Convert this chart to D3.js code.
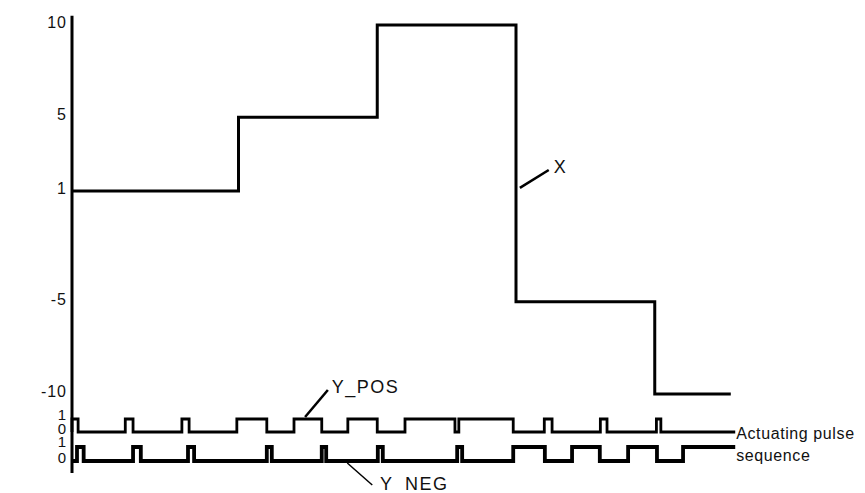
<!doctype html>
<html>
<head>
<meta charset="utf-8">
<title>Actuating pulse sequence</title>
<style>
  * { margin: 0; padding: 0; }
  body { background: #fff; }
  svg { display: block; }
  text { font-family: "Liberation Sans", Arial, sans-serif; fill: #111; }
  .tick text { font-size: 16px; letter-spacing: 1px; }
  .row .tick text { font-size: 15px; }
  .sig { fill: none; stroke: #000; stroke-linejoin: miter; }
</style>
<script src="https://cdnjs.cloudflare.com/ajax/libs/d3/7.8.5/d3.min.js"></script>
</head>
<body>
<script>
var width = 865, height = 493;

// input signal X, a staircase: time of each change and the new value
var xTimes  = [0, 30, 55, 80, 105, 118.7];
var xValues = [1, 5, 10, -5, -10, -10];
var xTicks  = [10, 5, 1, -5, -10];

// pulse trains, [start, end] of every "1" pulse (same time units)
var yPosPulses = [[0, 1.1], [9.6, 11], [19.8, 21.1], [29.7, 35.1], [40, 45], [49.7, 55],
                  [60, 69], [69.7, 79.5], [85.1, 86.5], [95.2, 96.4], [105.3, 106.1]];
var yNegPulses = [[0.9, 2.1], [11, 12.4], [20.9, 22], [35.1, 36], [45, 45.8], [55.1, 56],
                  [69.4, 70.3], [79.5, 85.2], [90.1, 95.1], [100.2, 105.4], [110.1, 119.5]];
var pulseEnd = 119.5;
var rowTicks = [1, 0];

var svg = d3.select("body").append("svg")
    .attr("width", width)
    .attr("height", height);

var x = d3.scaleLinear().domain([0, 120]).range([72, 738]);
var y = d3.scaleLinear().domain([-10, 10]).range([394, 25]);
var yPos = d3.scaleLinear().domain([0, 1]).range([432, 419]);
var yNeg = d3.scaleLinear().domain([0, 1]).range([461, 447]);

var plain = function(d) { return String(d); };   // hyphen minus like the original

// turn [start,end] pulses into step points
function toSteps(pulses) {
  var pts = [[0, 0]];
  pulses.forEach(function(p) {
    pts.push([p[0], 1]);
    if (p[1] < pulseEnd) pts.push([p[1], 0]);
  });
  pts.push([pulseEnd, pts[pts.length - 1][1]]);
  return pts;
}

// axis line (runs past the value range, down through the pulse rows)
svg.append("line")
    .attr("x1", x(0)).attr("x2", x(0))
    .attr("y1", y(10.5)).attr("y2", yNeg(-0.86))
    .attr("stroke", "#000").attr("stroke-width", 3);

var axis = svg.append("g")
    .attr("transform", "translate(" + x(0) + ",0)")
    .call(d3.axisLeft(y).tickValues(xTicks).tickFormat(plain).tickSize(0).tickPadding(5));
axis.select(".domain").remove();
axis.selectAll("text").attr("dy", "0.15em");

var posAxis = svg.append("g")
    .attr("class", "row")
    .attr("transform", "translate(" + x(0) + ",0)")
    .call(d3.axisLeft(yPos).tickValues(rowTicks).tickFormat(plain).tickSize(0).tickPadding(5));
posAxis.select(".domain").remove();
posAxis.selectAll("text").attr("dy", function(d) { return d ? "0.0em" : "0.12em"; });

var negAxis = svg.append("g")
    .attr("class", "row")
    .attr("transform", "translate(" + x(0) + ",0)")
    .call(d3.axisLeft(yNeg).tickValues(rowTicks).tickFormat(plain).tickSize(0).tickPadding(5));
negAxis.select(".domain").remove();
negAxis.selectAll("text").attr("dy", function(d) { return d ? "-0.05em" : "0.12em"; });

// X staircase
var xData = xTimes.map(function(t, i) { return [t, xValues[i]]; });
svg.append("path")
    .datum(xData)
    .attr("class", "sig")
    .attr("stroke-width", 3)
    .attr("d", d3.line().x(function(d) { return x(d[0]); })
                        .y(function(d) { return y(d[1]); })
                        .curve(d3.curveStepAfter));

// pulse rows
svg.append("path")
    .datum(toSteps(yPosPulses))
    .attr("class", "sig")
    .attr("stroke-width", 2.8)
    .attr("d", d3.line().x(function(d) { return x(d[0]); })
                        .y(function(d) { return yPos(d[1]); })
                        .curve(d3.curveStepAfter));

svg.append("path")
    .datum(toSteps(yNegPulses))
    .attr("class", "sig")
    .attr("stroke-width", 3.8)
    .attr("d", d3.line().x(function(d) { return x(d[0]); })
                        .y(function(d) { return yNeg(d[1]); })
                        .curve(d3.curveStepAfter));

// labels with leader lines
var leaders = [
  { x1: x(80.7), y1: y(1.17), x2: x(85.9), y2: y(2.14), w: 2.5 },
  { x1: x(42),   y1: yPos(1.15), x2: x(46.1), y2: yPos(3.23), w: 2.5 },
  { x1: x(49.6), y1: yNeg(-0.14), x2: x(54.1), y2: yNeg(-1.71), w: 1.5 }
];
svg.selectAll(".leader").data(leaders).enter().append("line")
    .attr("class", "leader")
    .attr("x1", function(d) { return d.x1; }).attr("y1", function(d) { return d.y1; })
    .attr("x2", function(d) { return d.x2; }).attr("y2", function(d) { return d.y2; })
    .attr("stroke", "#000").attr("stroke-width", function(d) { return d.w; });

svg.append("text").attr("x", x(87.9)).attr("y", y(1.98))
    .attr("text-anchor", "middle").attr("font-size", 18).text("X");
svg.append("text").attr("x", x(46.8)).attr("y", yPos(3.0))
    .attr("font-size", 18).attr("letter-spacing", 1.5).text("Y_POS");
svg.append("text").attr("x", x(55.5)).attr("y", yNeg(-2.1))
    .attr("font-size", 18).attr("letter-spacing", 1.5).text("Y_NEG");

svg.append("text").attr("x", x(pulseEnd) + 1).attr("y", yPos(-0.54))
    .attr("font-size", 16).attr("letter-spacing", 0.6).text("Actuating pulse");
svg.append("text").attr("x", x(pulseEnd) + 1).attr("y", yNeg(0.0))
    .attr("font-size", 16).attr("letter-spacing", 0.6).text("sequence");
</script>
</body>
</html>
